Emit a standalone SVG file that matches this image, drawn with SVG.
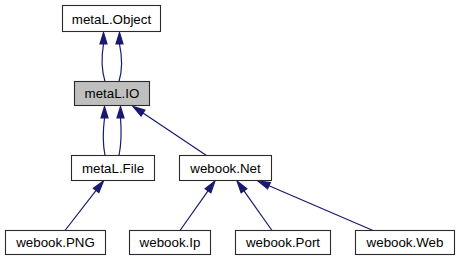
<svg xmlns="http://www.w3.org/2000/svg" width="459" height="261" viewBox="0 0 459 261">
  <style>
    .box { fill: #ffffff; stroke: #2a2a2a; stroke-width: 1.1; }
    .box.cur { fill: #bfbfbf; }
    .lbl { font-family: "Liberation Sans", Arial, sans-serif; font-size: 13.33px; fill: #000000; text-anchor: middle; }
    .edge { fill: none; stroke: #191970; stroke-width: 1.2; }
    .head { fill: #191970; stroke: #191970; stroke-width: 1.2; stroke-linejoin: miter; }
  </style>
  <rect width="459" height="261" fill="#ffffff"/>

  <!-- inheritance connectors -->
  <g id="edges">
    <!-- metaL.IO -> metaL.Object (double) -->
    <path class="edge" d="M105,81.5 C101.5,70 101.5,56 103.5,44"/>
    <polygon class="head" points="100,44 103.5,32.5 107,44"/>
    <path class="edge" d="M119,81.5 C122.5,70 122,56 119.5,44"/>
    <polygon class="head" points="116,44 119.5,32.5 123,44"/>

    <!-- metaL.File -> metaL.IO (double) -->
    <path class="edge" d="M105,155.5 C102.5,143 103,130 104.5,118"/>
    <polygon class="head" points="101,118 104.5,106.5 108,118"/>
    <path class="edge" d="M119,155.5 C121.5,143 121.5,130 120.5,118"/>
    <polygon class="head" points="117,118 120.5,106.5 124,118"/>

    <!-- webook.Net -> metaL.IO -->
    <line class="edge" x1="206.5" y1="155.5" x2="143" y2="113.1"/>
    <polygon class="head" points="141.1,116 133,106.5 144.9,110.2"/>

    <!-- webook.PNG -> metaL.File -->
    <line class="edge" x1="65" y1="230.5" x2="96.1" y2="190.4"/>
    <polygon class="head" points="93.35,188.24 103.5,181 98.85,192.56"/>

    <!-- webook.Ip -> webook.Net -->
    <line class="edge" x1="180" y1="230.5" x2="208" y2="190.8"/>
    <polygon class="head" points="205.15,188.77 215,181 210.85,192.83"/>

    <!-- webook.Port -> webook.Net -->
    <line class="edge" x1="272" y1="230.5" x2="244" y2="190.8"/>
    <polygon class="head" points="241.15,192.83 237,181 246.85,188.77"/>

    <!-- webook.Web -> webook.Net -->
    <line class="edge" x1="373" y1="230.5" x2="269" y2="185.7"/>
    <polygon class="head" points="267.6,188.9 258,181 270.4,182.5"/>
  </g>

  <g id="node-metaL-Object">
    <rect class="box" x="62.5" y="5.5" width="98" height="26"/>
    <text class="lbl" x="111.5" y="23.5">metaL.Object</text>
  </g>

  <g id="node-metaL-IO">
    <rect class="box cur" x="74.5" y="81.5" width="75" height="24"/>
    <text class="lbl" x="112" y="98">metaL.IO</text>
  </g>

  <g id="node-metaL-File">
    <rect class="box" x="71.5" y="155.5" width="83" height="25"/>
    <text class="lbl" x="113" y="172.5">metaL.File</text>
  </g>

  <g id="node-webook-Net">
    <rect class="box" x="179.5" y="155.5" width="92" height="25"/>
    <text class="lbl" x="225.5" y="172.5">webook.Net</text>
  </g>

  <g id="node-webook-PNG">
    <rect class="box" x="5.5" y="230.5" width="100" height="24"/>
    <text class="lbl" x="55.5" y="247">webook.PNG</text>
  </g>

  <g id="node-webook-Ip">
    <rect class="box" x="129.5" y="230.5" width="81" height="24"/>
    <text class="lbl" x="170" y="247">webook.Ip</text>
  </g>

  <g id="node-webook-Port">
    <rect class="box" x="235.5" y="230.5" width="95" height="24"/>
    <text class="lbl" x="283" y="247">webook.Port</text>
  </g>

  <g id="node-webook-Web">
    <rect class="box" x="355.5" y="230.5" width="99" height="24"/>
    <text class="lbl" x="405" y="247">webook.Web</text>
  </g>
</svg>
